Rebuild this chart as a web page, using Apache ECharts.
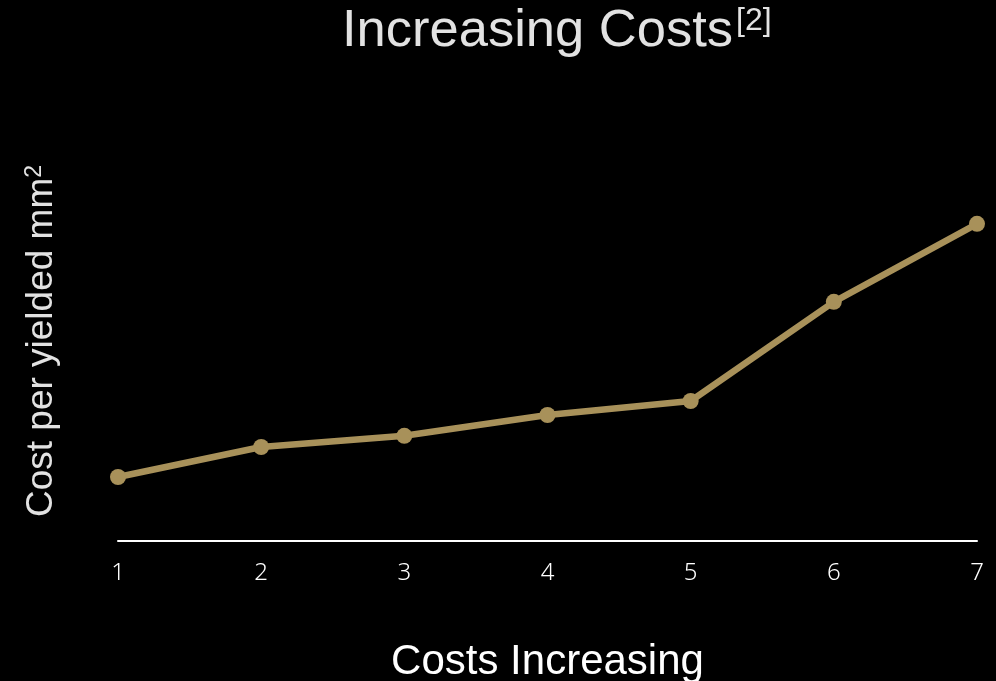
<!DOCTYPE html>
<html>
<head>
<meta charset="utf-8">
<script src="https://cdn.jsdelivr.net/npm/echarts@6/dist/echarts.min.js"></script>
<style>
  html, body { margin: 0; padding: 0; background: #000; }
  #chart { width: 996px; height: 681px; }
</style>
</head>
<body>
<div id="chart"></div>
<script>
// process steps along x, relative cost per yielded mm² (arbitrary units)
const steps = ["1", "2", "3", "4", "5", "6", "7"];
const costs = [16, 23.5, 26.3, 31.5, 35, 59.8, 79.3];

const chart = echarts.init(document.getElementById("chart"));

chart.setOption({
  backgroundColor: "#000",
  animation: false,
  title: {
    text: "{t|Increasing Costs}{s|[2]}",
    left: 342,
    top: 5,
    padding: 0,
    textStyle: {
      fontWeight: "normal",
      rich: {
        t: { fontFamily: "Liberation Sans", fontWeight: "normal", fontSize: 52.5, color: "#e2e2e2", verticalAlign: "bottom" },
        s: { fontFamily: "Liberation Sans", fontWeight: "normal", fontSize: 32, color: "#e2e2e2", verticalAlign: "top", padding: [0, 0, 14, 3] },
      },
    },
  },
  grid: { left: 118, right: 19, top: 141, bottom: 140, outerBoundsMode: "none", containLabel: false },
  xAxis: {
    type: "category",
    data: steps,
    boundaryGap: false,
    name: "Costs Increasing",
    nameLocation: "middle",
    nameGap: 100,
    nameTextStyle: { color: "#fff", fontSize: 42, fontFamily: "Liberation Sans" },
    axisLine: { lineStyle: { color: "#fff", width: 2 } },
    axisTick: { show: false },
    axisLabel: {
      color: "#fff",
      fontSize: 24,
      fontFamily: "Noto Sans",
      fontWeight: 300,
      margin: 20,
    },
    splitLine: { show: false },
  },
  yAxis: {
    type: "value",
    min: 0,
    max: 100,
    name: "{m|Cost per yielded mm}{s|2}",
    nameLocation: "middle",
    nameGap: 58,
    nameRotate: 90,
    nameTextStyle: {
      rich: {
        m: { fontFamily: "Liberation Sans", fontSize: 37, color: "#e2e2e2", verticalAlign: "bottom" },
        s: { fontFamily: "Liberation Sans", fontSize: 23, color: "#e2e2e2", verticalAlign: "top", padding: [0, 0, 14, 0] },
      },
    },
    axisLine: { show: false },
    axisTick: { show: false },
    axisLabel: { show: false },
    splitLine: { show: false },
  },
  series: [
    {
      type: "line",
      data: costs,
      symbol: "circle",
      symbolSize: 16,
      lineStyle: { color: "#a8915a", width: 6.5 },
      itemStyle: { color: "#a8915a" },
    },
  ],
});
</script>
</body>
</html>
